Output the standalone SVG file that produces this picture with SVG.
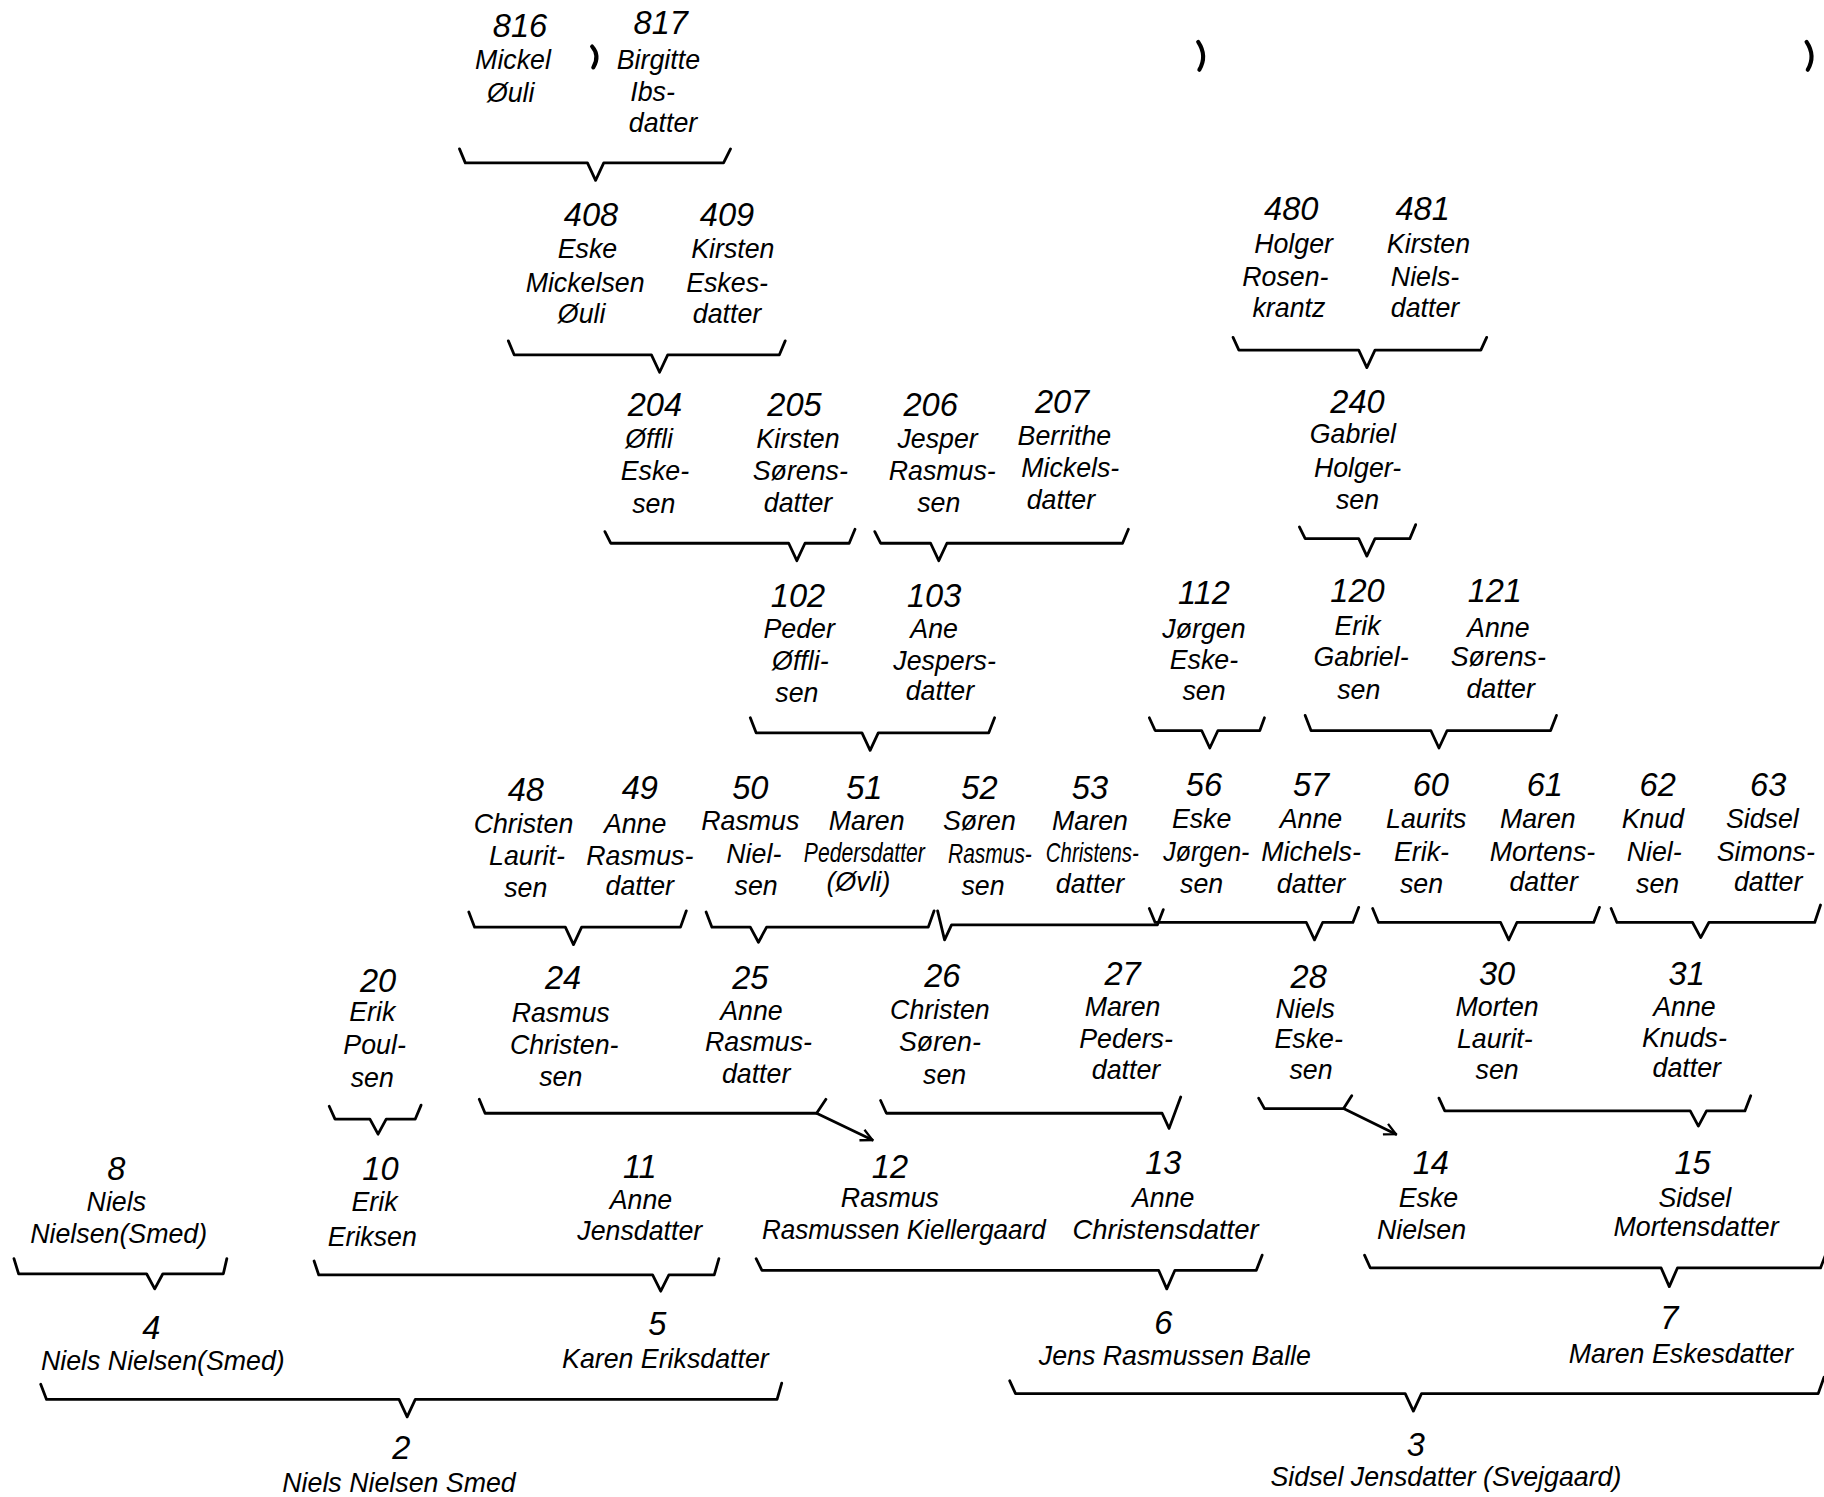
<svg xmlns="http://www.w3.org/2000/svg" width="1824" height="1497" viewBox="0 0 1824 1497">
<style>
text{font-family:"Liberation Sans","DejaVu Sans",sans-serif;font-style:italic;fill:#000;text-anchor:middle;dominant-baseline:central}
.num{font-size:28px}
.nm{font-size:23px}
.br{fill:none;stroke:#000;stroke-width:2.4;stroke-linejoin:round;stroke-linecap:round}
.mk{fill:none;stroke:#000;stroke-width:3.5;stroke-linecap:round}
</style>
<defs>
<marker id="arr" viewBox="0 0 12 12" refX="11" refY="6" markerWidth="12" markerHeight="12" markerUnits="userSpaceOnUse" orient="auto">
<path d="M1,1 L11,6 L1,11" fill="none" stroke="#000" stroke-width="2"/>
</marker>
</defs>
<rect width="1824" height="1497" fill="#fff"/>
<g transform="scale(1.16327)">
<g id="marks">
<path class="mk" d="M509,40 Q516,48 510,58"/>
<path class="mk" d="M1030,36 Q1038,48 1031,60"/>
<path class="mk" d="M1553,36 Q1561,48 1554,60"/>
</g>
<g id="connectors">
<path class="br" d="M395,128 L400,140 L505,140 L512,155 L519,140 L622,140 L628,128"/>
<path class="br" d="M437,293 L442,305 L560,305 L567,320 L574,305 L670,305 L675,293"/>
<path class="br" d="M1060,290 L1065,301 L1168,301 L1175,316 L1182,301 L1273,301 L1278,290"/>
<path class="br" d="M520,457 L525,467 L678,467 L685,482 L692,467 L730,467 L735,455"/>
<path class="br" d="M752,457 L757,467 L800,467 L807,482 L814,467 L965,467 L970,455"/>
<path class="br" d="M1117,453 L1122,463 L1168,463 L1175,478 L1182,463 L1212,463 L1217,451"/>
<path class="br" d="M645,617 L650,630 L741,630 L748,645 L755,630 L850,630 L855,617"/>
<path class="br" d="M988,617 L993,628 L1033,628 L1040,643 L1047,628 L1083,628 L1087,617"/>
<path class="br" d="M1122,615 L1127,628 L1230,628 L1237,643 L1244,628 L1333,628 L1338,615"/>
<path class="br" d="M403,784 L408,797 L486,797 L493,812 L500,797 L585,797 L590,783"/>
<path class="br" d="M607,784 L612,797 L645,797 L652,810 L659,797 L798,797 L803,783"/>
<path class="br" d="M806,783 L812,808 L818,795 L995,795 L1000,782"/>
<path class="br" d="M988,781 L993,793 L1123,793 L1130,808 L1137,793 L1163,793 L1168,780"/>
<path class="br" d="M1180,781 L1185,793 L1290,793 L1297,808 L1304,793 L1370,793 L1375,780"/>
<path class="br" d="M1385,781 L1390,793 L1455,793 L1462,806 L1469,793 L1560,793 L1565,778"/>
<path class="br" d="M283,951 L288,962 L318,962 L325,975 L332,962 L357,962 L362,950"/>
<path class="br" d="M412,945 L417,957 L702,957 L710,945"/>
<path class="br" d="M702,957 L750,980" marker-end="url(#arr)"/>
<path class="br" d="M757,946 L762,957 L999,957 L1005,970 L1015,943"/>
<path class="br" d="M1082,944 L1087,953 L1155,953 L1162,942"/>
<path class="br" d="M1155,953 L1200,975" marker-end="url(#arr)"/>
<path class="br" d="M1237,944 L1242,955 L1453,955 L1460,968 L1467,955 L1500,955 L1505,942"/>
<path class="br" d="M12,1082 L16,1095 L126,1095 L133,1108 L140,1095 L192,1095 L195,1082"/>
<path class="br" d="M270,1084 L274,1096 L561,1096 L568,1110 L575,1096 L614,1096 L618,1082"/>
<path class="br" d="M650,1082 L655,1092 L996,1092 L1003,1108 L1010,1092 L1080,1092 L1085,1079"/>
<path class="br" d="M1173,1079 L1178,1090 L1428,1090 L1435,1106 L1442,1090 L1565,1090 L1570,1077"/>
<path class="br" d="M35,1190 L40,1203 L343,1203 L350,1218 L357,1203 L668,1203 L672,1189"/>
<path class="br" d="M868,1187 L873,1198 L1208,1198 L1215,1213 L1222,1198 L1563,1198 L1568,1184"/>
</g>
<g id="n816"><text class="num" x="447" y="22">816</text><text class="nm" x="441" y="52">Mickel</text><text class="nm" x="439" y="80">Øuli</text></g>
<g id="n817"><text class="num" x="568" y="20">817</text><text class="nm" x="566" y="52">Birgitte</text><text class="nm" x="561" y="79">Ibs-</text><text class="nm" x="570" y="106">datter</text></g>
<g id="n408"><text class="num" x="508" y="185">408</text><text class="nm" x="505" y="214">Eske</text><text class="nm" x="503" y="243">Mickelsen</text><text class="nm" x="500" y="270">Øuli</text></g>
<g id="n409"><text class="num" x="625" y="185">409</text><text class="nm" x="630" y="214">Kirsten</text><text class="nm" x="625" y="243">Eskes-</text><text class="nm" x="625" y="270">datter</text></g>
<g id="n480"><text class="num" x="1110" y="180">480</text><text class="nm" x="1112" y="210">Holger</text><text class="nm" x="1105" y="238">Rosen-</text><text class="nm" x="1108" y="265">krantz</text></g>
<g id="n481"><text class="num" x="1223" y="180">481</text><text class="nm" x="1228" y="210">Kirsten</text><text class="nm" x="1225" y="238">Niels-</text><text class="nm" x="1225" y="265">datter</text></g>
<g id="n204"><text class="num" x="563" y="348">204</text><text class="nm" x="558" y="377">Øffli</text><text class="nm" x="563" y="405">Eske-</text><text class="nm" x="562" y="433">sen</text></g>
<g id="n205"><text class="num" x="683" y="348">205</text><text class="nm" x="686" y="377">Kirsten</text><text class="nm" x="688" y="405">Sørens-</text><text class="nm" x="686" y="432">datter</text></g>
<g id="n206"><text class="num" x="800" y="348">206</text><text class="nm" x="806" y="377">Jesper</text><text class="nm" x="810" y="405">Rasmus-</text><text class="nm" x="807" y="432">sen</text></g>
<g id="n207"><text class="num" x="913" y="346">207</text><text class="nm" x="915" y="375">Berrithe</text><text class="nm" x="920" y="402">Mickels-</text><text class="nm" x="912" y="430">datter</text></g>
<g id="n240"><text class="num" x="1167" y="346">240</text><text class="nm" x="1163" y="373">Gabriel</text><text class="nm" x="1167" y="402">Holger-</text><text class="nm" x="1167" y="430">sen</text></g>
<g id="n102"><text class="num" x="686" y="512">102</text><text class="nm" x="687" y="541">Peder</text><text class="nm" x="688" y="568">Øffli-</text><text class="nm" x="685" y="596">sen</text></g>
<g id="n103"><text class="num" x="803" y="512">103</text><text class="nm" x="803" y="541">Ane</text><text class="nm" x="812" y="568">Jespers-</text><text class="nm" x="808" y="594">datter</text></g>
<g id="n112"><text class="num" x="1035" y="510">112</text><text class="nm" x="1035" y="541">Jørgen</text><text class="nm" x="1035" y="567">Eske-</text><text class="nm" x="1035" y="594">sen</text></g>
<g id="n120"><text class="num" x="1167" y="508">120</text><text class="nm" x="1167" y="538">Erik</text><text class="nm" x="1170" y="565">Gabriel-</text><text class="nm" x="1168" y="593">sen</text></g>
<g id="n121"><text class="num" x="1285" y="508">121</text><text class="nm" x="1288" y="540">Anne</text><text class="nm" x="1288" y="565">Sørens-</text><text class="nm" x="1290" y="592">datter</text></g>
<g id="n48"><text class="num" x="452" y="679">48</text><text class="nm" x="450" y="708">Christen</text><text class="nm" x="453" y="736">Laurit-</text><text class="nm" x="452" y="763">sen</text></g>
<g id="n49"><text class="num" x="550" y="677">49</text><text class="nm" x="546" y="708">Anne</text><text class="nm" x="550" y="736">Rasmus-</text><text class="nm" x="550" y="762">datter</text></g>
<g id="n50"><text class="num" x="645" y="677">50</text><text class="nm" x="645" y="706">Rasmus</text><text class="nm" x="648" y="734">Niel-</text><text class="nm" x="650" y="762">sen</text></g>
<g id="n51"><text class="num" x="743" y="677">51</text><text class="nm" x="743" y="733" textLength="104" lengthAdjust="spacingAndGlyphs">Pedersdatter</text><text class="nm" x="745" y="706">Maren</text><text class="nm" x="738" y="758">(Øvli)</text></g>
<g id="n52"><text class="num" x="842" y="677">52</text><text class="nm" x="842" y="706">Søren</text><text class="nm" x="851" y="734" textLength="72" lengthAdjust="spacingAndGlyphs">Rasmus-</text><text class="nm" x="845" y="762">sen</text></g>
<g id="n53"><text class="num" x="937" y="677">53</text><text class="nm" x="937" y="706">Maren</text><text class="nm" x="939" y="733" textLength="80" lengthAdjust="spacingAndGlyphs">Christens-</text><text class="nm" x="937" y="760">datter</text></g>
<g id="n56"><text class="num" x="1035" y="675">56</text><text class="nm" x="1033" y="704">Eske</text><text class="nm" x="1037" y="732" textLength="74" lengthAdjust="spacingAndGlyphs">Jørgen-</text><text class="nm" x="1033" y="760">sen</text></g>
<g id="n57"><text class="num" x="1127" y="675">57</text><text class="nm" x="1127" y="704">Anne</text><text class="nm" x="1127" y="732">Michels-</text><text class="nm" x="1127" y="760">datter</text></g>
<g id="n60"><text class="num" x="1230" y="675">60</text><text class="nm" x="1226" y="704">Laurits</text><text class="nm" x="1222" y="732">Erik-</text><text class="nm" x="1222" y="760">sen</text></g>
<g id="n61"><text class="num" x="1328" y="675">61</text><text class="nm" x="1322" y="704">Maren</text><text class="nm" x="1326" y="732">Mortens-</text><text class="nm" x="1327" y="758">datter</text></g>
<g id="n62"><text class="num" x="1425" y="675">62</text><text class="nm" x="1421" y="704">Knud</text><text class="nm" x="1422" y="732">Niel-</text><text class="nm" x="1425" y="760">sen</text></g>
<g id="n63"><text class="num" x="1520" y="675">63</text><text class="nm" x="1515" y="704">Sidsel</text><text class="nm" x="1518" y="732">Simons-</text><text class="nm" x="1520" y="758">datter</text></g>
<g id="n20"><text class="num" x="325" y="843">20</text><text class="nm" x="320" y="870">Erik</text><text class="nm" x="322" y="898">Poul-</text><text class="nm" x="320" y="927">sen</text></g>
<g id="n24"><text class="num" x="484" y="841">24</text><text class="nm" x="482" y="871">Rasmus</text><text class="nm" x="485" y="898">Christen-</text><text class="nm" x="482" y="926">sen</text></g>
<g id="n25"><text class="num" x="645" y="841">25</text><text class="nm" x="646" y="869">Anne</text><text class="nm" x="652" y="896">Rasmus-</text><text class="nm" x="650" y="923">datter</text></g>
<g id="n26"><text class="num" x="810" y="839">26</text><text class="nm" x="808" y="868">Christen</text><text class="nm" x="808" y="896">Søren-</text><text class="nm" x="812" y="924">sen</text></g>
<g id="n27"><text class="num" x="965" y="837">27</text><text class="nm" x="965" y="866">Maren</text><text class="nm" x="968" y="893">Peders-</text><text class="nm" x="968" y="920">datter</text></g>
<g id="n28"><text class="num" x="1125" y="840">28</text><text class="nm" x="1122" y="867">Niels</text><text class="nm" x="1125" y="893">Eske-</text><text class="nm" x="1127" y="920">sen</text></g>
<g id="n30"><text class="num" x="1287" y="837">30</text><text class="nm" x="1287" y="866">Morten</text><text class="nm" x="1285" y="893">Laurit-</text><text class="nm" x="1287" y="920">sen</text></g>
<g id="n31"><text class="num" x="1450" y="837">31</text><text class="nm" x="1448" y="866">Anne</text><text class="nm" x="1448" y="892">Knuds-</text><text class="nm" x="1450" y="918">datter</text></g>
<g id="n8"><text class="num" x="100" y="1005">8</text><text class="nm" x="100" y="1033">Niels</text><text class="nm" x="102" y="1061">Nielsen(Smed)</text></g>
<g id="n10"><text class="num" x="327" y="1005">10</text><text class="nm" x="322" y="1033">Erik</text><text class="nm" x="320" y="1063">Eriksen</text></g>
<g id="n11"><text class="num" x="550" y="1003">11</text><text class="nm" x="551" y="1032">Anne</text><text class="nm" x="550" y="1058">Jensdatter</text></g>
<g id="n12"><text class="num" x="765" y="1003">12</text><text class="nm" x="765" y="1030">Rasmus</text><text class="nm" x="777" y="1057" textLength="244" lengthAdjust="spacingAndGlyphs">Rasmussen Kiellergaard</text></g>
<g id="n13"><text class="num" x="1000" y="1000">13</text><text class="nm" x="1000" y="1030">Anne</text><text class="nm" x="1002" y="1057" textLength="160" lengthAdjust="spacingAndGlyphs">Christensdatter</text></g>
<g id="n14"><text class="num" x="1230" y="1000">14</text><text class="nm" x="1228" y="1030">Eske</text><text class="nm" x="1222" y="1057">Nielsen</text></g>
<g id="n15"><text class="num" x="1455" y="1000">15</text><text class="nm" x="1457" y="1030">Sidsel</text><text class="nm" x="1458" y="1055">Mortensdatter</text></g>
<g id="n4"><text class="num" x="130" y="1142">4</text><text class="nm" x="140" y="1170">Niels Nielsen(Smed)</text></g>
<g id="n5"><text class="num" x="565" y="1138">5</text><text class="nm" x="572" y="1168">Karen Eriksdatter</text></g>
<g id="n6"><text class="num" x="1000" y="1137">6</text><text class="nm" x="1010" y="1166">Jens Rasmussen Balle</text></g>
<g id="n7"><text class="num" x="1435" y="1133">7</text><text class="nm" x="1445" y="1164">Maren Eskesdatter</text></g>
<g id="n2"><text class="num" x="345" y="1245">2</text><text class="nm" x="343" y="1275">Niels Nielsen Smed</text></g>
<g id="n3"><text class="num" x="1217" y="1242">3</text><text class="nm" x="1243" y="1270">Sidsel Jensdatter (Svejgaard)</text></g>
</g>
</svg>
